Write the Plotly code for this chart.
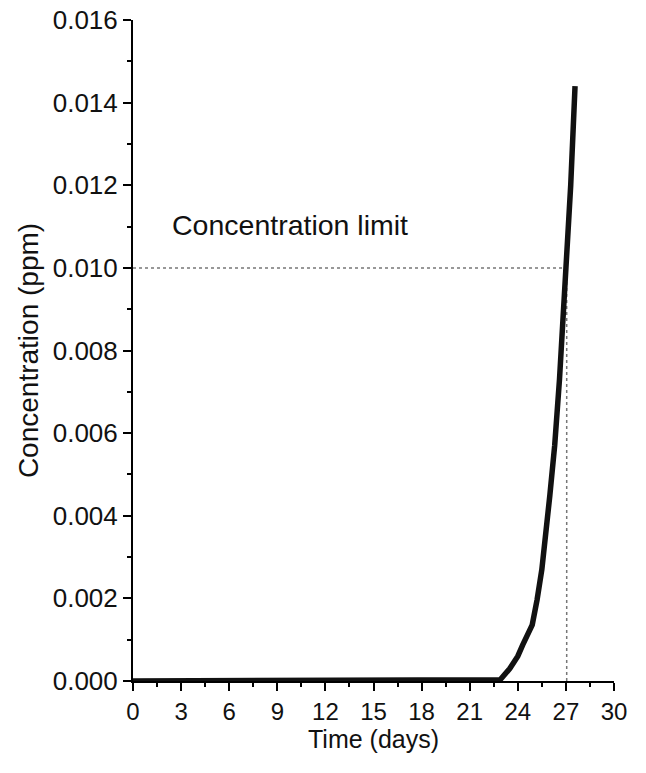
import plotly.graph_objects as go

days = [0, 3, 6, 9, 12, 15, 18, 21, 22, 22.9, 23.5, 24.0, 24.3, 24.6, 24.9, 25.2, 25.5, 26.0, 26.3, 26.6, 27.0, 27.3, 27.57]
conc = [0, 0, 0, 0, 0, 0, 0, 0, 0, 0.00003, 0.0003, 0.0006, 0.00087, 0.0011, 0.00136, 0.00196, 0.0027, 0.0045, 0.0057, 0.0073, 0.0099, 0.0120, 0.0144]

limit_value = 0.010
limit_day = 27.05
limit_label = "Concentration limit"

x_tick_vals = [0, 3, 6, 9, 12, 15, 18, 21, 24, 27, 30]
y_tick_vals = [0, 0.002, 0.004, 0.006, 0.008, 0.010, 0.012, 0.014, 0.016]

FONT = "Liberation Sans, Arial, sans-serif"

fig = go.Figure()

fig.add_trace(go.Scatter(
    x=[0, limit_day], y=[limit_value, limit_value], mode="lines",
    line=dict(color="#777777", width=1.5, dash="dot"), hoverinfo="skip", showlegend=False))
fig.add_trace(go.Scatter(
    x=[limit_day, limit_day], y=[0, limit_value], mode="lines",
    line=dict(color="#777777", width=1.5, dash="dot"), hoverinfo="skip", showlegend=False))
fig.add_trace(go.Scatter(
    x=days, y=conc, mode="lines",
    line=dict(color="#111111", width=5.5), showlegend=False))

fig.add_annotation(x=2.3, y=0.01104, text=limit_label, showarrow=False,
                   xanchor="left", yanchor="middle",
                   font=dict(family=FONT, size=28.5, color="#111111"))

fig.update_xaxes(
    range=[0, 30], tickvals=x_tick_vals, ticktext=[str(v) for v in x_tick_vals],
    showline=True, linecolor="black", linewidth=2, mirror=False, automargin=False,
    ticks="outside", ticklen=8, tickwidth=2, tickcolor="black",
    minor=dict(ticks="outside", ticklen=4, tickwidth=2, tickcolor="black", dtick=1.5, tick0=0),
    showgrid=False, zeroline=False, ticklabeloverflow="allow",
    tickfont=dict(family=FONT, size=24, color="#111111"),
    title=dict(text="Time (days)", font=dict(family=FONT, size=25, color="#111111"), standoff=6),
)
fig.update_yaxes(
    range=[0, 0.016], tickvals=y_tick_vals, tickformat=".3f",
    showline=True, linecolor="black", linewidth=2, mirror=False, automargin=False,
    ticks="outside", ticklen=8, tickwidth=2, tickcolor="black",
    minor=dict(ticks="outside", ticklen=4, tickwidth=2, tickcolor="black", dtick=0.001, tick0=0),
    showgrid=False, zeroline=False, ticklabeloverflow="allow",
    tickfont=dict(family=FONT, size=26, color="#111111"),
    title=dict(text="Concentration (ppm)", font=dict(family=FONT, size=28, color="#111111"), standoff=6),
)

fig.update_layout(
    width=646, height=773,
    margin=dict(l=133, r=32, t=20, b=92),
    paper_bgcolor="white", plot_bgcolor="white",
)

fig.write_html("out.html")
